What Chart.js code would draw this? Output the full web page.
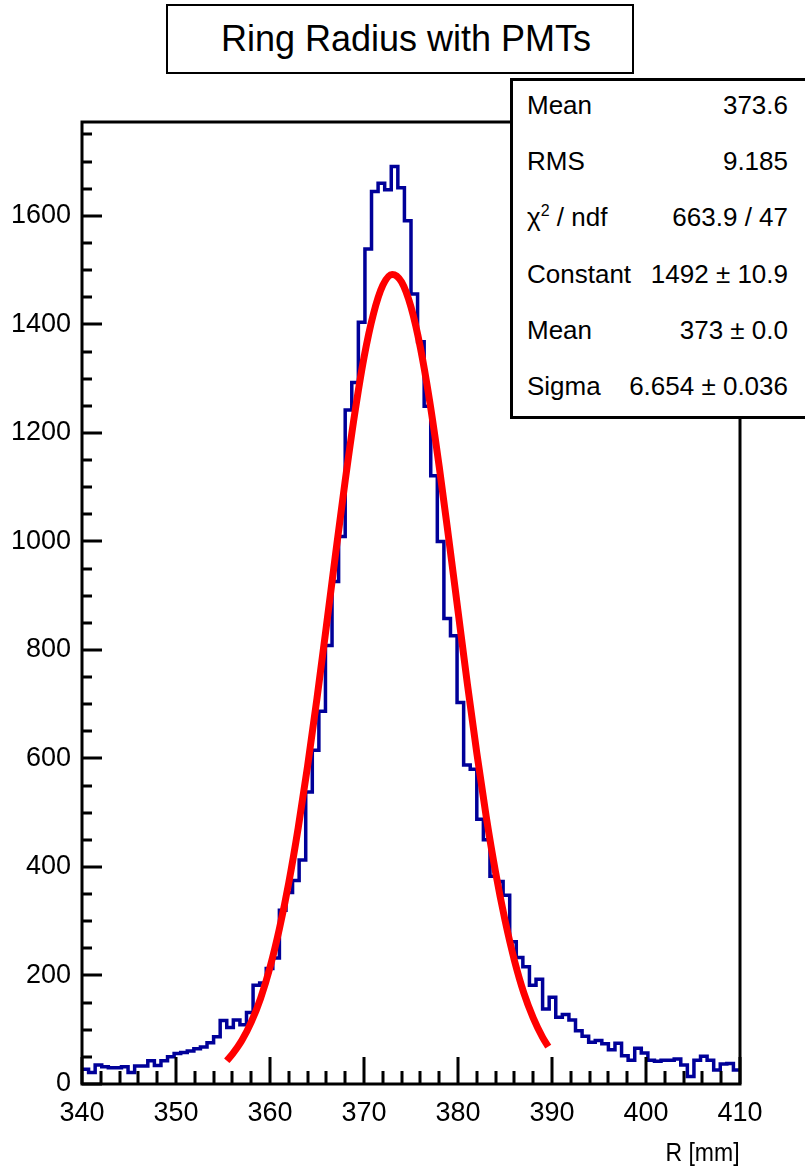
<!DOCTYPE html>
<html>
<head>
<meta charset="utf-8">
<title>Ring Radius with PMTs</title>
<script src="https://cdn.jsdelivr.net/npm/chart.js@4.4.1/dist/chart.umd.min.js"></script>
<style>
  html, body { margin: 0; padding: 0; background: #fff; }
  #wrap {
    position: relative; width: 805px; height: 1171px; overflow: hidden;
    font-family: 'Liberation Sans', Arial, Helvetica, sans-serif; color: #000;
  }
  #chart { position: absolute; left: 0; top: 0; }
  #title-box {
    position: absolute; left: 166px; top: 4px; width: 452px; height: 66px; padding-left: 12px;
    border: 2px solid #000; background: #fff;
    font-size: 36px; line-height: 66px; text-align: center;
  }
  #stats {
    position: absolute; left: 510px; top: 78px; width: 320px; height: 335px;
    border: 3px solid #000; background: #fff; font-size: 26px;
  }
  #stats .row {
    position: absolute; left: 14px; width: 261px; height: 30px; line-height: 30px;
    display: flex; justify-content: space-between; white-space: nowrap;
  }
  #stats sup { font-size: 16px; vertical-align: 10px; line-height: 0; }
  #xtitle {
    position: absolute; right: 65px; top: 1137px; font-size: 25px; line-height: 30px;
    transform: scaleX(0.92); transform-origin: right center;
  }
</style>
</head>
<body>
<div id="wrap">
  <canvas id="chart" width="805" height="1171"></canvas>
  <div id="title-box">Ring Radius with PMTs</div>
  <div id="stats"></div>
  <div id="xtitle">R [mm]</div>
</div>
<script>
// histogram R [mm], 100 bins from 340 to 410
const xMin = 340;
const xMax = 410;
const counts = [
  27, 21, 35, 32, 30, 30, 32, 21, 33, 33,
  43, 34, 43, 50, 56, 58, 61, 65, 68, 76,
  87, 117, 104, 118, 109, 132, 182, 186, 213, 232,
  320, 353, 375, 413, 538, 615, 687, 808, 926, 1009,
  1242, 1293, 1404, 1539, 1645, 1660, 1648, 1691, 1652, 1591,
  1456, 1368, 1249, 1121, 1000, 858, 826, 703, 588, 580,
  488, 450, 383, 373, 348, 262, 233, 216, 182, 193,
  138, 160, 123, 128, 118, 98, 88, 77, 80, 74,
  63, 75, 52, 44, 66, 57, 44, 42, 44, 44,
  46, 35, 14, 44, 51, 44, 26, 37, 38, 26
];

// gaussian fit curve
const fitX = [355.4, 356, 357, 358, 359, 360, 361, 362, 363, 364, 365, 366, 367, 368, 369, 370, 371, 372,
              373, 374, 375, 376, 377, 378, 379, 380, 381, 382, 383, 384, 385, 386, 387, 388, 389, 389.6];
const fitY = [43, 55, 80, 114, 158, 215, 286, 371, 472, 586, 711, 844, 980, 1112, 1234, 1339, 1419, 1472,
              1492, 1478, 1432, 1357, 1257, 1138, 1007, 872, 737, 610, 493, 390, 302, 228, 168, 122, 86, 69];

// axis
const yMax = 1773;
const xTicks = [340, 350, 360, 370, 380, 390, 400, 410];
const yTicks = [0, 200, 400, 600, 800, 1000, 1200, 1400, 1600];
const xMajor = 10, xMinor = 2;
const yMajor = 200, yMinor = 50;

// stats box
const statLabels = ['Mean', 'RMS', 'χ<sup>2</sup> / ndf', 'Constant', 'Mean', 'Sigma'];
const statValues = ['373.6', '9.185', '663.9 / 47', '1492 ± 10.9', '373 ± 0.0', '6.654 ± 0.036'];

const statsEl = document.getElementById('stats');
statLabels.forEach(function (lab, i) {
    const row = document.createElement('div');
    row.className = 'row';
    row.style.top = (105 + i * 56.2 - 15 - 81) + 'px';
    row.innerHTML = '<span>' + lab + '</span><span>' + statValues[i] + '</span>';
    statsEl.appendChild(row);
});

const binW = (xMax - xMin) / counts.length;
const histPts = counts.map(function (c, i) { return { x: xMin + i * binW, y: c }; });
histPts.push({ x: xMax, y: counts[counts.length - 1] });

const fitPts = fitX.map(function (x, i) { return { x: x, y: fitY[i] }; });

// ROOT-style frame with inward ticks
const rootFrame = {
    id: 'rootFrame',
    afterDraw(chart) {
        const ctx = chart.ctx;
        const a = chart.chartArea;
        const sx = chart.scales.x, sy = chart.scales.y;
        ctx.save();
        ctx.strokeStyle = '#000';
        ctx.lineWidth = 3;
        ctx.beginPath();
        for (let v = xMin; v <= xMax + 1e-6; v += xMinor) {
            const px = Math.round(sx.getPixelForValue(v));
            const major = Math.abs(v / xMajor - Math.round(v / xMajor)) < 1e-6;
            ctx.moveTo(px, a.bottom);
            ctx.lineTo(px, a.bottom - (major ? 27 : 13));
        }
        for (let v = 0; v <= yMax; v += yMinor) {
            const py = Math.round(sy.getPixelForValue(v));
            const major = v % yMajor === 0;
            ctx.moveTo(a.left, py);
            ctx.lineTo(a.left + (major ? 20 : 10), py);
        }
        ctx.stroke();
        ctx.strokeRect(a.left, a.top, a.right - a.left, a.bottom - a.top);
        ctx.restore();
    }
};

const tickFont = { family: "'Liberation Sans', Arial, Helvetica, sans-serif", size: 27 };

new Chart(document.getElementById('chart'), {
    type: 'line',
    data: {
        datasets: [{
            label: 'fit',
            data: fitPts,
            borderColor: '#ff0000',
            borderWidth: 7,
            pointRadius: 0,
            cubicInterpolationMode: 'monotone',
            fill: false
        }, {
            label: 'hist',
            data: histPts,
            borderColor: '#000099',
            borderWidth: 3.5,
            pointRadius: 0,
            stepped: 'before',
            fill: false
        }]
    },
    options: {
        responsive: false,
        animation: false,
        devicePixelRatio: 1,
        layout: { padding: { left: 0, right: 65, top: 122, bottom: 0 } },
        plugins: { legend: { display: false }, tooltip: { enabled: false } },
        scales: {
            x: {
                type: 'linear', min: xMin, max: xMax,
                grid: { display: false, drawTicks: false },
                border: { display: false },
                afterBuildTicks(scale) { scale.ticks = xTicks.map(function (v) { return { value: v }; }); },
                ticks: { color: '#000', font: tickFont, padding: 13, maxRotation: 0, autoSkip: false,
                         callback: function (v) { return String(v); } },
                afterFit(scale) { scale.height = 87; }
            },
            y: {
                type: 'linear', min: 0, max: yMax,
                grid: { display: false, drawTicks: false },
                border: { display: false },
                afterBuildTicks(scale) { scale.ticks = yTicks.map(function (v) { return { value: v }; }); },
                ticks: { color: '#000', font: tickFont, padding: 11, autoSkip: false,
                         callback: function (v) { return String(v); } },
                afterFit(scale) { scale.width = 82; }
            }
        }
    },
    plugins: [rootFrame]
});
</script>
</body>
</html>
